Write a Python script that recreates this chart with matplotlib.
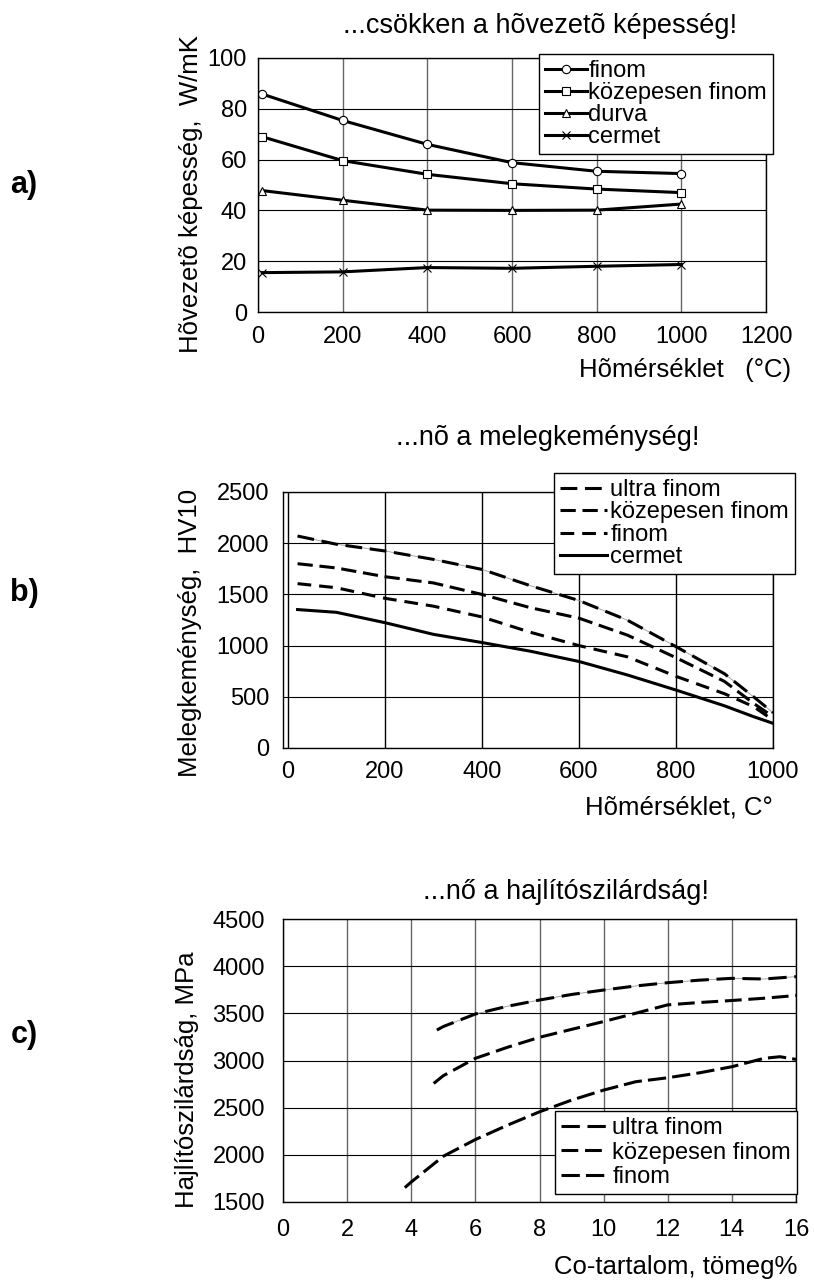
import numpy as np
import matplotlib
matplotlib.use('Agg')
import matplotlib.pyplot as plt

plt.rcParams['font.family'] = ['Liberation Sans', 'DejaVu Sans']

W, H = 814, 1281

# a) hovezeto kepesseg (W/mK) a homerseklet fuggvenyeben
temp_a = [10, 200, 400, 600, 800, 1000]
finom_a = [85.8, 75.4, 66.0, 58.8, 55.4, 54.5]
kozepes_a = [69.0, 59.6, 54.2, 50.5, 48.4, 47.0]
durva_a = [47.8, 44.0, 40.1, 40.0, 40.1, 42.5]
cermet_a = [15.5, 15.8, 17.5, 17.2, 18.0, 18.7]

# b) melegkemenyseg (HV10)
temp_b = [20, 100, 200, 300, 400, 500, 600, 700, 800, 900, 960, 1000]
ultra_b = [2070, 1990, 1924, 1842, 1744, 1585, 1440, 1248, 990, 725, 500, 345]
kozepes_b = [1800, 1758, 1673, 1612, 1500, 1370, 1268, 1102, 882, 650, 436, 306]
finom_b = [1605, 1565, 1462, 1385, 1280, 1130, 1000, 890, 700, 530, 404, 273]
cermet_b = [1352, 1325, 1224, 1110, 1030, 945, 845, 713, 566, 412, 306, 241]

# c) hajlitoszilardsag (MPa) a Co-tartalom fuggvenyeben
co_ultra = [4.8, 5, 6, 7, 8, 9, 10, 11, 12, 13, 14, 15, 16]
ultra_c = [3323, 3360, 3493, 3575, 3641, 3700, 3747, 3790, 3825, 3852, 3871, 3864, 3889]
co_kozepes = [4.7, 5, 6, 7, 8, 9, 10, 11, 12, 13, 14, 15, 16]
kozepes_c = [2757, 2839, 3023, 3140, 3246, 3330, 3413, 3501, 3590, 3615, 3636, 3660, 3689]
co_finom = [3.8, 4, 5, 6, 7, 8, 9, 10, 11, 12, 13, 14, 15, 15.5, 16]
finom_c = [1652, 1712, 1985, 2162, 2314, 2456, 2580, 2686, 2775, 2817, 2870, 2934, 3023, 3040, 3012]

fig = plt.figure(figsize=(W / 100, H / 100), dpi=100)

TICK = 17
LABEL = 18.5
TITLE = 19.5
LEG = 17


def fxy(x, y):
    return x / W, 1 - y / H


def make_axes(left, top, right, bottom):
    return fig.add_axes([left / W, 1 - bottom / H, (right - left) / W, (bottom - top) / H])


def style(ax, xpad, ypad, vgrid='black'):
    ax.grid(True, axis='y', color='black', linewidth=0.8)
    ax.grid(True, axis='x', color=vgrid, linewidth=1.0)
    ax.set_axisbelow(True)
    ax.tick_params(axis='x', length=0, labelsize=TICK, pad=xpad)
    ax.tick_params(axis='y', length=0, labelsize=TICK, pad=ypad)
    for s in ax.spines.values():
        s.set_linewidth(1.0)
        s.set_color('black')


def frame(leg):
    f = leg.get_frame()
    f.set_edgecolor('black')
    f.set_linewidth(1.0)
    f.set_alpha(1)


lw = 2.2

# ---- a) ----
ax1 = make_axes(258, 58, 766, 312)
mk = dict(color='black', lw=lw, markersize=6, markerfacecolor='white', markeredgewidth=0.8)
ax1.plot(temp_a, finom_a, marker='o', label='finom', **mk)
ax1.plot(temp_a, kozepes_a, marker='s', label='közepesen finom', **mk)
ax1.plot(temp_a, durva_a, marker='^', label='durva', **mk)
ax1.plot(temp_a, cermet_a, marker='x', label='cermet', **mk)
ax1.set_xlim(0, 1200)
ax1.set_ylim(0, 100)
ax1.set_xticks(range(0, 1201, 200))
ax1.set_yticks(range(0, 101, 20))
style(ax1, 10, 8, vgrid='0.4')
leg = ax1.legend(loc='upper right', bbox_to_anchor=fxy(773, 54), bbox_transform=fig.transFigure,
                 fontsize=LEG, fancybox=False, borderaxespad=0, handlelength=1.8,
                 handletextpad=0.05, labelspacing=0.0, borderpad=0.25)
frame(leg)

fig.text(*fxy(540, 26), '...csökken a hõvezetõ képesség!', fontsize=TITLE, ha='center', va='center')
fig.text(*fxy(791, 370), 'Hõmérséklet   (°C)', fontsize=LABEL, ha='right', va='center')
fig.text(*fxy(191, 194), 'Hõvezetõ képesség,  W/mK', fontsize=LABEL, rotation=90, ha='center', va='center')
fig.text(*fxy(24, 185), 'a)', fontsize=22, fontweight='bold', ha='center', va='center')

# ---- b) ----
ax2 = make_axes(283, 492, 773, 748)
ax2.plot(temp_b, ultra_b, color='0.6', lw=0.6)
ax2.plot(temp_b, ultra_b, color='black', lw=lw, dashes=(5.5, 2.5), label='ultra finom')
ax2.plot(temp_b, kozepes_b, color='black', lw=lw, dashes=(5, 2.2), label='közepesen finom')
ax2.plot(temp_b, finom_b, color='black', lw=lw, dashes=(4.5, 2.6), label='finom')
ax2.plot(temp_b, cermet_b, color='black', lw=lw, label='cermet')
ax2.set_xlim(-10, 1000)
ax2.set_ylim(0, 2500)
ax2.set_xticks(range(0, 1001, 200))
ax2.set_yticks(range(0, 2501, 500))
style(ax2, 9, 10)
leg = ax2.legend(loc='upper right', bbox_to_anchor=fxy(795, 473), bbox_transform=fig.transFigure,
                 fontsize=LEG, fancybox=False, borderaxespad=0, handlelength=2.0,
                 handletextpad=0.15, labelspacing=0.02, borderpad=0.25)
frame(leg)

fig.text(*fxy(548, 438), '...nõ a melegkeménység!', fontsize=TITLE, ha='center', va='center')
fig.text(*fxy(773, 807), 'Hõmérséklet, C°', fontsize=LABEL, ha='right', va='center')
fig.text(*fxy(190, 633), 'Melegkeménység,  HV10', fontsize=LABEL, rotation=90, ha='center', va='center')
fig.text(*fxy(24, 593), 'b)', fontsize=22, fontweight='bold', ha='center', va='center')

# ---- c) ----
ax3 = make_axes(283, 919, 796, 1202)
ax3.plot(co_ultra, ultra_c, color='0.6', lw=0.6)
ax3.plot(co_ultra, ultra_c, color='black', lw=lw, dashes=(6, 2.5), label='ultra finom')
ax3.plot(co_kozepes, kozepes_c, color='black', lw=lw, dashes=(5.5, 2.2), label='közepesen finom')
ax3.plot(co_finom, finom_c, color='black', lw=lw, dashes=(6, 2), label='finom')
ax3.set_xlim(0, 16)
ax3.set_ylim(1500, 4500)
ax3.set_xticks(range(0, 17, 2))
ax3.set_yticks(range(1500, 4501, 500))
style(ax3, 12, 13, vgrid='0.4')
leg = ax3.legend(loc='lower right', bbox_to_anchor=fxy(797, 1194), bbox_transform=fig.transFigure,
                 fontsize=LEG, fancybox=False, borderaxespad=0, handlelength=2.0,
                 handletextpad=0.2, labelspacing=0.1, borderpad=0.25)
frame(leg)

fig.text(*fxy(566, 892), '...nő a hajlítószilárdság!', fontsize=TITLE, ha='center', va='center')
fig.text(*fxy(797, 1267), 'Co-tartalom, tömeg%', fontsize=LABEL, ha='right', va='center')
fig.text(*fxy(187, 1080), 'Hajlítószilárdság, MPa', fontsize=LABEL, rotation=90, ha='center', va='center')
fig.text(*fxy(24, 1035), 'c)', fontsize=22, fontweight='bold', ha='center', va='center')

fig.savefig('out.png', dpi=100)
